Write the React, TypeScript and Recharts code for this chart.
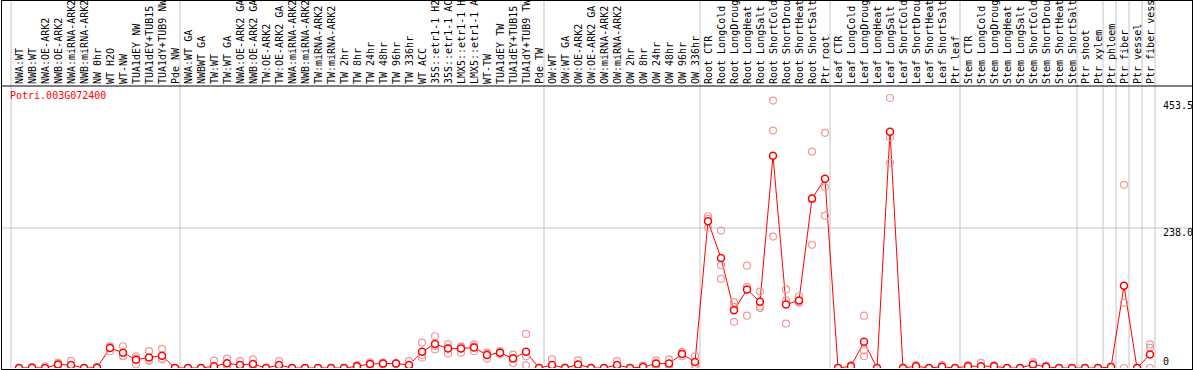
import React from 'react';
import { LineChart, Line, XAxis, YAxis, ReferenceLine } from 'recharts';

const geneLabel = 'Potri.003G072400';

const categories = [
  'NWA:WT', 'NWB:WT', 'NWA:OE-ARK2', 'NWB:OE-ARK2', 'NWA:miRNA-ARK2', 'NWB:miRNA-ARK2', 'NW 0hr', 'WT H2O', 'WT-NW',
  'TUA1dEY NW', 'TUA1dEY+TUB15 NW', 'TUA1dY+TUB9 NW', 'Pde NW',
  'NWA:WT GA', 'NWBWT GA', 'TW:WT', 'TW:WT GA', 'NWA:OE-ARK2 GA', 'NWB:OE-ARK2 GA', 'TW:OE-ARK2', 'TW:OE-ARK2 GA',
  'NWA:miRNA-ARK2 GA', 'NWB:miRNA-ARK2 GA', 'TW:miRNA-ARK2', 'TW:miRNA-ARK2 GA', 'TW 2hr', 'TW 8hr', 'TW 24hr',
  'TW 48hr', 'TW 96hr', 'TW 336hr', 'WT ACC', '35S::etr1-1 H2O', '35S::etr1-1 ACC', 'LMX5::etr1-1 H2O',
  'LMX5::etr1-1 ACC', 'WT-TW', 'TUA1dEY TW', 'TUA1dEY+TUB15 TW', 'TUA1dY+TUB9 TW', 'Pde TW',
  'OW:WT', 'OW:WT GA', 'OW:OE-ARK2', 'OW:OE-ARK2 GA', 'OW:miRNA-ARK2', 'OW:miRNA-ARK2 GA', 'OW 2hr', 'OW 8hr',
  'OW 24hr', 'OW 48hr', 'OW 96hr', 'OW 336hr',
  'Root CTR', 'Root LongCold', 'Root LongDrought', 'Root LongHeat', 'Root LongSalt', 'Root ShortCold',
  'Root ShortDrought', 'Root ShortHeat', 'Root ShortSalt', 'Ptr root',
  'Leaf CTR', 'Leaf LongCold', 'Leaf LongDrought', 'Leaf LongHeat', 'Leaf LongSalt', 'Leaf ShortCold',
  'Leaf ShortDrought', 'Leaf ShortHeat', 'Leaf ShortSalt', 'Ptr leaf',
  'Stem CTR', 'Stem LongCold', 'Stem LongDrought', 'Stem LongHeat', 'Stem LongSalt', 'Stem ShortCold',
  'Stem ShortDrought', 'Stem ShortHeat', 'Stem ShortSalt', 'Ptr shoot',
  'Ptr xylem', 'Ptr phloem', 'Ptr fiber', 'Ptr vessel', 'Ptr fiber vessel',
];

const means = [
  0, 0.5, 0, 6, 5, 0, 0.5, 34, 26, 14, 18, 21, 0,
  0, 0, 3, 8, 5, 7, 0, 5, 0, 0, 0, 0, 0, 3, 7, 7.5, 7.5, 5, 27.5, 41, 33, 33, 35, 22, 26, 16, 27.5, 0,
  5, 0, 6, 0, 0, 5, 0, 1.5, 7.5, 7.5, 24, 10,
  249.6, 187, 98, 133.5, 112.5, 361, 108, 114.7, 288, 321.6,
  0, 3, 44.5, 0, 401.5, 0, 3, 0, 2, 0,
  3, 3, 3, 0, 0, 6, 2, 0, 0, 0,
  0, 1.5, 139.7, 0, 23,
];

const rep1 = [
  0, 1, 3, 9, 12, 0, 2, 37, 37, 20, 28.6, 32.6, 0,
  0, 0, 12.7, 16, 11.6, 14.5, 0, 11.6, 0, 0, 0, 0, 0, 5, 9.7, 9, 8.5, 11.6, 43, 54, 40, 36.5, 40, 16, 28.6, 22.7, 58, 0,
  14.5, 0, 13, 0, 0, 11.6, 0, 4, 13, 14.5, 27.5, 20,
  258, 233.7, 112, 174, 130, 454.7, 133.5, 122, 368, 399.8,
  0, 5, 89, 0, 459, 0, 5, 0, 5, 0,
  5, 8.8, 5, 0, 0, 10, 4, 0, 0, 0,
  0, 3, 311.4, 0, 40,
];

const rep2 = [
  0, 0.5, 0, 3, 2, 0, 0, 28.5, 20, 6, 12.7, 15.6, 0,
  0, 0, 0, 5, 3, 5, 0, 3, 0, 0, 0, 0, 0, 3, 7, 7, 7, 3, 22, 31.5, 24.6, 26, 28.6, 24, 23, 8.5, 20, 0,
  0, 0, 3, 0, 0, 3, 0, 0.5, 5, 5, 20, 5,
  253.6, 174.8, 78.5, 138, 105, 403.7, 115, 110.8, 209.4, 307.4,
  0, 3, 29.7, 0, 392.4, 0, 3, 0, 1, 0,
  3, 1, 3, 0, 0, 3, 2, 0, 0, 0,
  0, 1, 110.8, 0, 34.3,
];

const rep3 = [
  0, 0, 0, 6, 1, 0, 0, 36.5, 21, 16, 12.7, 14.8, 0,
  0, 0, 0, 3, 1, 2, 0, 1, 0, 0, 0, 0, 0, 1, 4, 6.5, 7, 1, 17.5, 37.5, 34.4, 36.5, 36.4, 26, 26.4, 16.8, 4.5, 0,
  0.5, 0, 2, 0, 0, 1, 0, 0, 4.5, 3, 24.5, 5,
  238.3, 151.6, 104, 89, 102, 223.5, 75.6, 111.3, 286.6, 259,
  0, 1, 20, 0, 348.8, 0, 1, 0, 0, 0,
  1, 0, 1, 0, 0, 5, 0, 0, 0, 0,
  0, 0.5, 0, 0, 0,
];

const yTicks = [0, 238, 453.5];
// index of the last sample in each group (-1 = left edge)
const groupEnds = [-1, 12, 40, 52, 62, 72, 81, 83, 84, 85, 86, 87];

const W = 1194;
const H = 370;
const STEP = 13;
const FIRST_X = 19;
const PLOT_LEFT = 1;
const PLOT_RIGHT = 1192;
const PLOT_TOP = 86;
const PLOT_BOTTOM = 368;
const PX_PER_UNIT = 140 / 238;
const Y_MAX = (PLOT_BOTTOM - PLOT_TOP) / PX_PER_UNIT;
const Y_AT_IMAGE_TOP = PLOT_BOTTOM / PX_PER_UNIT;
const X_DOMAIN: [number, number] = [(PLOT_LEFT - FIRST_X) / STEP, (PLOT_RIGHT - FIRST_X) / STEP];

const MONO = '"DejaVu Sans Mono", "Liberation Mono", monospace';
const RED = '#ff0000';
const PINK = '#f09a9a';
const GRID = '#c4c4c4';

const data = categories.map((name, i) => ({
  i,
  name,
  mean: means[i],
  r1: rep1[i],
  r2: rep2[i],
  r3: rep3[i],
}));
const indices = categories.map((_, i) => i);

const HeaderTick = (props: any) => {
  const { x, payload } = props;
  const label = categories[payload.value];
  return (
    <text
      transform={`translate(${x + 3.5},${PLOT_TOP - 2}) rotate(-90)`}
      fontSize={10}
      fontFamily={MONO}
      fill="#000"
      textAnchor="start"
    >
      {label}
    </text>
  );
};

const ValueTick = (props: any) => {
  const { y, payload } = props;
  const v = payload.value as number;
  const txt = v === 0 ? '0' : v.toFixed(1);
  return (
    <text x={PLOT_RIGHT - 29} y={v === 0 ? y - 3 : y + 8} fontSize={10} fontFamily={MONO} fill="#000" textAnchor="start">
      {txt}
    </text>
  );
};

const repDot = { r: 3.5, stroke: PINK, strokeWidth: 1.2, fill: 'none' };

export default function App() {
  return (
    <div style={{ position: 'absolute', left: 0, top: 0, width: W, height: H, background: '#fff', overflow: 'hidden' }}>
      <LineChart width={W} height={H} data={data} margin={{ top: 1, right: W - PLOT_RIGHT, bottom: H - PLOT_BOTTOM, left: PLOT_LEFT }}>
        <XAxis
          type="number"
          dataKey="i"
          orientation="top"
          height={PLOT_TOP - 1}
          domain={X_DOMAIN}
          allowDataOverflow
          ticks={indices}
          interval={0}
          tick={<HeaderTick />}
          tickLine={false}
          axisLine={{ stroke: '#000', strokeWidth: 1 }}
        />
        <YAxis
          orientation="right"
          mirror
          domain={[0, Y_MAX]}
          allowDataOverflow
          ticks={yTicks}
          interval={0}
          tick={<ValueTick />}
          axisLine={false}
          tickLine={false}
        />
        <ReferenceLine y={238} stroke={GRID} strokeWidth={1} />
        {groupEnds.map((g) => (
          <ReferenceLine
            key={g}
            ifOverflow="visible"
            segment={[
              { x: g + 5 / STEP, y: 0 },
              { x: g + 5 / STEP, y: Y_AT_IMAGE_TOP },
            ]}
            stroke={GRID}
            strokeWidth={1}
          />
        ))}
        <Line dataKey="r1" stroke="none" dot={repDot} activeDot={false} isAnimationActive={false} />
        <Line dataKey="r2" stroke="none" dot={repDot} activeDot={false} isAnimationActive={false} />
        <Line dataKey="r3" stroke="none" dot={repDot} activeDot={false} isAnimationActive={false} />
        <Line
          dataKey="mean"
          type="linear"
          stroke={RED}
          strokeWidth={1}
          dot={{ r: 3.5, stroke: RED, strokeWidth: 1.5, fill: '#fff' }}
          activeDot={false}
          isAnimationActive={false}
        />
      </LineChart>
      <div
        style={{
          position: 'absolute',
          left: 1,
          top: 0,
          width: PLOT_RIGHT,
          height: H,
          boxSizing: 'border-box',
          border: '1px solid #000',
          pointerEvents: 'none',
        }}
      />
      <div
        style={{
          position: 'absolute',
          left: 10,
          top: 91,
          fontFamily: MONO,
          fontSize: 10,
          lineHeight: '10px',
          color: RED,
          whiteSpace: 'nowrap',
        }}
      >
        {geneLabel}
      </div>
    </div>
  );
}
